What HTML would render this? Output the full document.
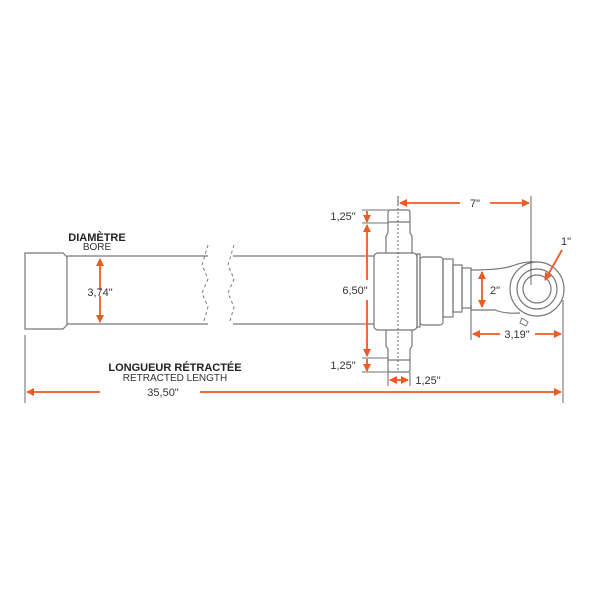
<!DOCTYPE html>
<html><head><style>body{margin:0;background:#fff}svg{display:block}text{font-family:"Liberation Sans",sans-serif;fill:#333}</style></head><body>
<svg width="600" height="600" viewBox="0 0 600 600">
<defs><marker id="a" markerWidth="8" markerHeight="8" refX="7" refY="4" orient="auto" markerUnits="userSpaceOnUse"><path d="M0,0 L8,4 L0,8 z" fill="#ee5a24"/></marker></defs>
<g fill="none" stroke="#777" stroke-width="1.2">
<path d="M25,253 H63 L67,257 V325 L63,329 H25 Z"/>
<path d="M67,256 H208 M233,256 H375 M67,324 H208 M233,324 H375"/>
<path d="M208,245 l-6,20 l6,14 l-6,14 l6,14 l-4,14 M234,245 l-6,20 l6,14 l-6,14 l6,14 l-4,14" stroke-dasharray="3,3" stroke-width="1"/>
<rect x="374" y="253" width="43" height="77" rx="4" fill="#fff"/>
<path d="M390,210 H408 Q410,210 410,213 V233 L412,236 V253 M390,210 Q388,210 388,213 V233 L386,236 V253 M388,222 H410"/>
<path d="M390,372 H408 Q410,372 410,369 V349 L412,346 V330 M390,372 Q388,372 388,369 V349 L386,346 V330 M388,360 H410"/>
<rect x="417" y="254" width="3" height="73"/>
<rect x="420" y="257" width="23" height="68" rx="3"/>
<rect x="443" y="259" width="10" height="58"/>
<rect x="453" y="265" width="9" height="47"/>
<rect x="462" y="268" width="9" height="40"/>
<path d="M471,270 Q500,270 512,266 Q525,261 537,262 M471,310 H495 Q505,314 520,313"/>
<circle cx="537" cy="289" r="27" fill="#fff"/>
<circle cx="537" cy="289" r="20"/>
<circle cx="537" cy="289" r="14"/>
<path d="M522,318 l6,4 l-2,4 l-6,-3 z" stroke-width="1"/>
</g>
<g stroke="#444" stroke-width="0.8" fill="none">
<path d="M398,196 V372" stroke-dasharray="2,2"/>
<path d="M25,335 V403 M563,300 V403 M531,196 V285 M471,305 V340 M398,196 V206"/>
<path d="M362,210 H388 M362,223 H388 M362,358 H388 M362,372 H388 M388,372 V386 M410,372 V386"/>
</g>
<g stroke="#ee5a24" stroke-width="1.8" fill="none">
<path d="M100,290 V259" marker-end="url(#a)"/><path d="M100,296 V322" marker-end="url(#a)"/>
<path d="M100,392 H27" marker-end="url(#a)"/><path d="M200,392 H561" marker-end="url(#a)"/>
<path d="M460,203 H400" marker-end="url(#a)"/><path d="M490,203 H529" marker-end="url(#a)"/>
<path d="M367,280 V225" marker-end="url(#a)"/><path d="M367,300 V356" marker-end="url(#a)"/>
<path d="M367,216 V211 M367,216 V222" marker-end="url(#a)"/>
<path d="M367,366 V359 M367,366 V371" marker-end="url(#a)"/>
<path d="M482,289 V272" marker-end="url(#a)"/><path d="M482,289 V307" marker-end="url(#a)"/>
<path d="M500,334 H473" marker-end="url(#a)"/><path d="M535,334 H561" marker-end="url(#a)"/>
<path d="M399,380 H390" marker-end="url(#a)"/><path d="M399,380 H408" marker-end="url(#a)"/>
<path d="M562,250 L545,280" marker-end="url(#a)"/>
</g>
<g font-size="11">
<text x="97" y="241" text-anchor="middle" font-weight="bold" style="fill:#222">DIAMÈTRE</text>
<text x="97" y="250" text-anchor="middle" font-size="10">BORE</text>
<text x="100" y="296" text-anchor="middle">3,74"</text>
<text x="175" y="371" text-anchor="middle" font-weight="bold" style="fill:#222">LONGUEUR RÉTRACTÉE</text>
<text x="175" y="381" text-anchor="middle" font-size="10">RETRACTED LENGTH</text>
<text x="163" y="396" text-anchor="middle">35,50"</text>
<text x="475" y="207" text-anchor="middle">7"</text>
<text x="343" y="220" text-anchor="middle">1,25"</text>
<text x="355" y="294" text-anchor="middle">6,50"</text>
<text x="343" y="369" text-anchor="middle">1,25"</text>
<text x="428" y="384" text-anchor="middle">1,25"</text>
<text x="495" y="294" text-anchor="middle">2"</text>
<text x="517" y="338" text-anchor="middle">3,19"</text>
<text x="566" y="245" text-anchor="middle">1"</text>
</g>
</svg>
</body></html>
